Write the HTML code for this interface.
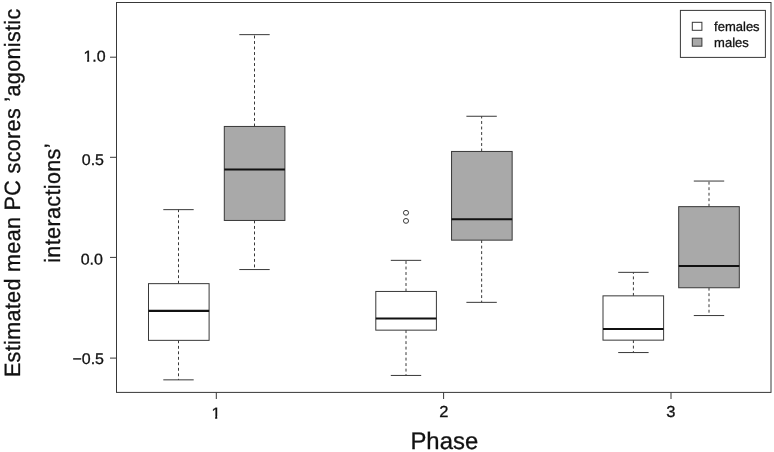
<!DOCTYPE html>
<html lang="en"><head><meta charset="utf-8"><title>Boxplot</title>
<style>html,body{margin:0;padding:0;background:#fff}svg{display:block}</style></head>
<body>
<svg width="774" height="452" viewBox="0 0 774 452" font-family="'Liberation Sans', Arial, Helvetica, sans-serif" fill="#111">
<style>text{stroke:#111;stroke-width:0.3px;text-rendering:geometricPrecision}</style>
<rect x="0" y="0" width="774" height="452" fill="#fff"/>
<g stroke="#383838" stroke-width="1" fill="none">
<rect x="116.5" y="2.5" width="654.5" height="389.9"/>
<line x1="110" y1="57.2" x2="116.5" y2="57.2"/>
<line x1="110" y1="157.3" x2="116.5" y2="157.3"/>
<line x1="110" y1="257.4" x2="116.5" y2="257.4"/>
<line x1="110" y1="358.1" x2="116.5" y2="358.1"/>
<line x1="216.3" y1="392.45" x2="216.3" y2="399"/>
<line x1="443.6" y1="392.45" x2="443.6" y2="399"/>
<line x1="671.0" y1="392.45" x2="671.0" y2="399"/>
<line x1="178.5" y1="283.65" x2="178.5" y2="209.65" stroke-dasharray="2.9 2.6"/>
<line x1="178.5" y1="340.35" x2="178.5" y2="379.85" stroke-dasharray="2.9 2.6"/>
<line x1="163.3" y1="209.65" x2="193.7" y2="209.65"/>
<line x1="163.3" y1="379.85" x2="193.7" y2="379.85"/>
<rect x="148.50" y="283.65" width="60.6" height="56.7" fill="#fff"/>
<line x1="148.50" y1="310.85" x2="209.10" y2="310.85" stroke="#111" stroke-width="2.05" stroke-linecap="butt"/>
<line x1="254.5" y1="126.45" x2="254.5" y2="34.65" stroke-dasharray="2.9 2.6"/>
<line x1="254.5" y1="220.45" x2="254.5" y2="269.55" stroke-dasharray="2.9 2.6"/>
<line x1="239.3" y1="34.65" x2="269.7" y2="34.65"/>
<line x1="239.3" y1="269.55" x2="269.7" y2="269.55"/>
<rect x="224.30" y="126.45" width="60.6" height="94.0" fill="#a9a9a9"/>
<line x1="224.30" y1="169.55" x2="284.90" y2="169.55" stroke="#111" stroke-width="2.05" stroke-linecap="butt"/>
<line x1="406.0" y1="291.45" x2="406.0" y2="260.35" stroke-dasharray="2.9 2.6"/>
<line x1="406.0" y1="330.15" x2="406.0" y2="375.45" stroke-dasharray="2.9 2.6"/>
<line x1="390.8" y1="260.35" x2="421.2" y2="260.35"/>
<line x1="390.8" y1="375.45" x2="421.2" y2="375.45"/>
<rect x="375.80" y="291.45" width="60.6" height="38.7" fill="#fff"/>
<line x1="375.80" y1="318.55" x2="436.40" y2="318.55" stroke="#111" stroke-width="2.05" stroke-linecap="butt"/>
<line x1="481.65" y1="151.45" x2="481.65" y2="116.25" stroke-dasharray="2.9 2.6"/>
<line x1="481.65" y1="240.15" x2="481.65" y2="302.35" stroke-dasharray="2.9 2.6"/>
<line x1="466.4" y1="116.25" x2="496.8" y2="116.25"/>
<line x1="466.4" y1="302.35" x2="496.8" y2="302.35"/>
<rect x="451.55" y="151.45" width="60.6" height="88.7" fill="#a9a9a9"/>
<line x1="451.55" y1="219.15" x2="512.15" y2="219.15" stroke="#111" stroke-width="2.05" stroke-linecap="butt"/>
<line x1="633.4" y1="295.85" x2="633.4" y2="272.35" stroke-dasharray="2.9 2.6"/>
<line x1="633.4" y1="340.15" x2="633.4" y2="352.55" stroke-dasharray="2.9 2.6"/>
<line x1="618.2" y1="272.35" x2="648.6" y2="272.35"/>
<line x1="618.2" y1="352.55" x2="648.6" y2="352.55"/>
<rect x="603.00" y="295.85" width="60.6" height="44.3" fill="#fff"/>
<line x1="603.00" y1="328.95" x2="663.60" y2="328.95" stroke="#111" stroke-width="2.05" stroke-linecap="butt"/>
<line x1="709.0" y1="206.65" x2="709.0" y2="181.05" stroke-dasharray="2.9 2.6"/>
<line x1="709.0" y1="287.75" x2="709.0" y2="315.55" stroke-dasharray="2.9 2.6"/>
<line x1="693.8" y1="181.05" x2="724.2" y2="181.05"/>
<line x1="693.8" y1="315.55" x2="724.2" y2="315.55"/>
<rect x="678.70" y="206.65" width="60.6" height="81.1" fill="#a9a9a9"/>
<line x1="678.70" y1="266.05" x2="739.30" y2="266.05" stroke="#111" stroke-width="2.05" stroke-linecap="butt"/>
<ellipse cx="406" cy="212.8" rx="2.55" ry="2.4"/>
<ellipse cx="406" cy="220.9" rx="2.55" ry="2.4"/>
<rect x="680.4" y="10.4" width="85" height="47" fill="#fff"/>
<rect x="692.3" y="22.3" width="9.6" height="8" fill="#fff"/>
<rect x="692.3" y="38.2" width="9.6" height="8" fill="#a9a9a9"/>
</g>
<g font-size="13px">
<text x="714.1" y="30.5">females</text>
<text x="714.1" y="46.5">males</text>
</g>
<g font-size="15.5px">
<g transform="translate(105.6 61.6) rotate(0.03) scale(1.03 1)"><text text-anchor="end" font-size="15.5px">1.0</text><rect x="-21.77" y="-2.26" width="3.80" height="3.86" fill="#fff" stroke="none"/><rect x="-15.96" y="-2.26" width="2.98" height="3.86" fill="#fff" stroke="none"/></g>
<g transform="translate(104.0 164.9) rotate(0.03) scale(1.03 1)"><text text-anchor="end" font-size="15.5px">0.5</text></g>
<g transform="translate(102.9 264.4) rotate(0.03) scale(1.03 1)"><text text-anchor="end" font-size="15.5px">0.0</text></g>
<g transform="translate(104.0 364.1) rotate(0.03) scale(1.03 1)"><text text-anchor="end" font-size="15.5px">−0.5</text></g>
<g transform="translate(215.9 418.6) rotate(0.03) scale(1.03 1)"><text text-anchor="middle" font-size="15.8px">1</text><rect x="-4.59" y="-2.28" width="3.85" height="3.88" fill="#fff" stroke="none"/><rect x="1.30" y="-2.28" width="3.03" height="3.88" fill="#fff" stroke="none"/></g>
<g transform="translate(443.9 416.95) rotate(0.03) scale(1.03 1)"><text text-anchor="middle" font-size="16.0px">2</text></g>
<g transform="translate(670.9 416.9) rotate(0.03) scale(1.03 1)"><text text-anchor="middle" font-size="16.0px">3</text></g>
</g>
<g font-size="22.4px">
<text x="444.3" y="449.1" text-anchor="middle" font-size="23.9px">Phase</text>
<text transform="translate(20.2 377.1) rotate(-90) scale(1 1.03)" font-size="21.5px" letter-spacing="0.36">Estimated mean PC scores ’agonistic</text>
<text transform="translate(59.9 262.8) rotate(-90) scale(1 1.03)" font-size="21.5px" letter-spacing="0.38">interactions’</text>
</g>
</svg>
</body></html>
